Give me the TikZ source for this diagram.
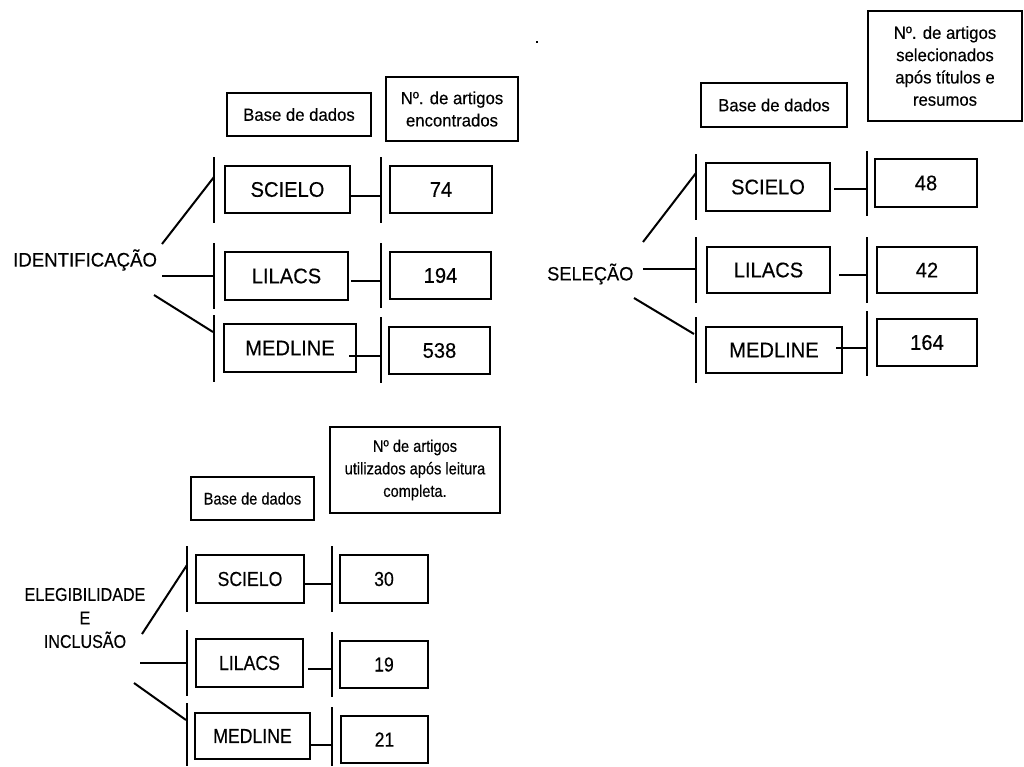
\documentclass[tikz,border=0pt]{standalone}
\usepackage{fontspec}
\setmainfont{Liberation Sans}
\newfontfamily\fa[FakeStretch=0.95,FakeBold=0.3]{Liberation Sans}
\newfontfamily\fb[FakeStretch=0.87,FakeBold=0.3]{Liberation Sans}
\begin{document}
\begin{tikzpicture}[x=1pt,y=-1pt,
  thinbox/.style={draw, line width=1.1pt, inner sep=0pt, align=center},
  thickbox/.style={draw, line width=2.2pt, inner sep=0pt},
  bigA/.style={font=\fa\fontsize{21.2}{24}\selectfont},
  smallA/.style={font=\fa\fontsize{17.6}{22.3}\selectfont},
  bigB/.style={font=\fb\fontsize{20.3}{24}\selectfont},
  smallB/.style={font=\fb\fontsize{16.8}{22.5}\selectfont},
  bar/.style={line width=2pt},
  link/.style={line width=2pt}]
\useasboundingbox (0,0) rectangle (1024,766);

% ---------------- Panel 1 : IDENTIFICACAO ----------------
\node[thinbox, smallA, minimum width=144pt, minimum height=43pt] (bd1) at (299,114.5) {Base de dados};
\node[thinbox, smallA, minimum width=132pt, minimum height=64pt] (n1) at (452,109) {Nº. de artigos\\encontrados};
\node[thickbox, bigA, minimum width=125pt, minimum height=47pt] (s1) at (287.5,189.5) {SCIELO};
\node[thickbox, bigA, minimum width=123pt, minimum height=48pt] (l1) at (286.5,276) {LILACS};
\node[thickbox, bigA, minimum width=132pt, minimum height=48pt] (m1) at (290,348) {MEDLINE};
\node[thickbox, bigA, minimum width=102pt, minimum height=47pt] (v11) at (441,189.5) {74};
\node[thickbox, bigA, minimum width=101pt, minimum height=47pt] (v12) at (440.5,275.5) {194};
\node[thickbox, bigA, minimum width=101pt, minimum height=47pt] (v13) at (439.5,350.5) {538};
\node[font=\fa\fontsize{19.6}{24}\selectfont, anchor=west, inner sep=0pt] (id) at (13,260) {IDENTIFICAÇÃO};
% bars
\draw[bar] (214,157) -- (214,223);
\draw[bar] (214,243) -- (214,309);
\draw[bar] (214,315) -- (214,382);
\draw[bar] (381,157) -- (381,223);
\draw[bar] (381,243) -- (381,308);
\draw[bar] (381,317) -- (381,383);
% connectors
\coordinate (c11) at (381,196);
\coordinate (c12) at (381,281);
\coordinate (c13) at (381,356);
\draw[link] (s1.east |- c11) -- (c11);
\draw[link] ([xshift=2pt]l1.east |- c12) -- (c12);
\draw[link] ([xshift=-8pt]m1.east |- c13) -- (c13);
\coordinate (d11) at (162,244); \coordinate (e11) at (214,177);
\coordinate (d12) at (162,276); \coordinate (e12) at (214,276);
\coordinate (d13) at (154,295); \coordinate (e13) at (213,332);
\draw[link] (d11) -- (e11);
\draw[link] (d12) -- (e12);
\draw[link] (d13) -- (e13);

% ---------------- Panel 2 : SELECAO ----------------
\node[font=\fa\fontsize{18}{20}\selectfont, inner sep=0pt] (dot) at (537,42) {.};
\node[thinbox, smallA, minimum width=146pt, minimum height=44pt] (bd2) at (774,105) {Base de dados};
\node[thinbox, smallA, minimum width=154pt, minimum height=110pt] (n2) at (945,66) {Nº. de artigos\\selecionados\\após títulos e\\resumos};
\node[thickbox, bigA, minimum width=124pt, minimum height=48pt] (s2) at (768,187) {SCIELO};
\node[thickbox, bigA, minimum width=123pt, minimum height=46pt] (l2) at (768.5,270) {LILACS};
\node[thickbox, bigA, minimum width=136pt, minimum height=46pt] (m2) at (774,350) {MEDLINE};
\node[thickbox, bigA, minimum width=102pt, minimum height=48pt] (v21) at (926,183) {48};
\node[thickbox, bigA, minimum width=100pt, minimum height=46pt] (v22) at (927,270) {42};
\node[thickbox, bigA, minimum width=100pt, minimum height=47pt] (v23) at (927,342.5) {164};
\node[font=\fa\fontsize{19.2}{24}\selectfont, anchor=west, inner sep=0pt] (sel) at (547,274) {SELEÇÃO};
\draw[bar] (696,154) -- (696,220);
\draw[bar] (696,237) -- (696,303);
\draw[bar] (696,317) -- (696,383);
\draw[bar] (867,151) -- (867,216);
\draw[bar] (867,237) -- (867,303);
\draw[bar] (867,311) -- (867,376);
\coordinate (c21) at (867,189);
\coordinate (c22) at (867,275);
\coordinate (c23) at (867,348);
\draw[link] ([xshift=3pt]s2.east |- c21) -- (c21);
\draw[link] ([xshift=8pt]l2.east |- c22) -- (c22);
\draw[link] ([xshift=-7pt]m2.east |- c23) -- (c23);
\coordinate (d21) at (643,242); \coordinate (e21) at (696,173);
\coordinate (d22) at (643,269); \coordinate (e22) at (696,269);
\coordinate (d23) at (634,298); \coordinate (e23) at (694,334);
\draw[link] (d21) -- (e21);
\draw[link] (d22) -- (e22);
\draw[link] (d23) -- (e23);

% ---------------- Panel 3 : ELEGIBILIDADE E INCLUSAO ----------------
\node[thinbox, smallB, minimum width=123pt, minimum height=43pt] (bd3) at (252.5,498.5) {Base de dados};
\node[thinbox, smallB, minimum width=170pt, minimum height=86pt] (n3) at (415,470) {Nº de artigos\\utilizados após leitura\\completa.};
\node[thickbox, bigB, minimum width=108pt, minimum height=48pt] (s3) at (250,579) {SCIELO};
\node[thickbox, bigB, minimum width=107pt, minimum height=48pt] (l3) at (249.5,663) {LILACS};
\node[thickbox, bigB, minimum width=115pt, minimum height=46pt] (m3) at (252.5,736) {MEDLINE};
\node[thickbox, bigB, minimum width=88pt, minimum height=48pt] (v31) at (384,579) {30};
\node[thickbox, bigB, minimum width=88pt, minimum height=47pt] (v32) at (384,664.5) {19};
\node[thickbox, bigB, minimum width=87pt, minimum height=47pt] (v33) at (384.5,739.5) {21};
\node[font=\fb\fontsize{18.5}{23.5}\selectfont, align=center, inner sep=0pt] (el) at (85,618) {ELEGIBILIDADE\\E\\INCLUSÃO};
\draw[bar] (187,546) -- (187,612);
\draw[bar] (187,630) -- (187,696);
\draw[bar] (187,703) -- (187,766);
\draw[bar] (332,546) -- (332,612);
\draw[bar] (332,632) -- (332,697);
\draw[bar] (332,707) -- (332,766);
\coordinate (c31) at (332,584);
\coordinate (c32) at (332,669);
\coordinate (c33) at (332,745);
\draw[link] (s3.east |- c31) -- (c31);
\draw[link] ([xshift=4pt]l3.east |- c32) -- (c32);
\draw[link] (m3.east |- c33) -- (c33);
\coordinate (d31) at (142,634); \coordinate (e31) at (187,565);
\coordinate (d32) at (140,663); \coordinate (e32) at (187,663);
\coordinate (d33) at (134,683); \coordinate (e33) at (186,720);
\draw[link] (d31) -- (e31);
\draw[link] (d32) -- (e32);
\draw[link] (d33) -- (e33);
\end{tikzpicture}
\end{document}
